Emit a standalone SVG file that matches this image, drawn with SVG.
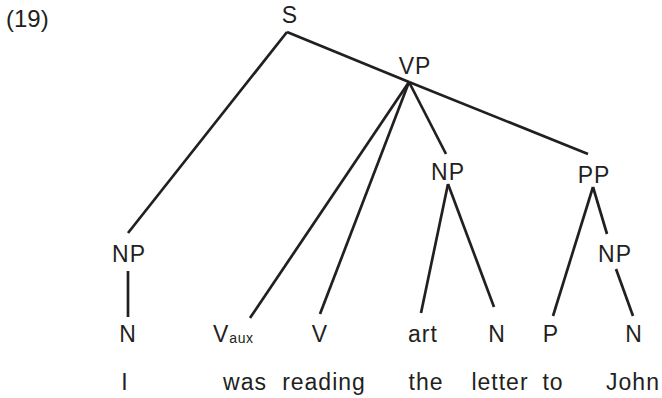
<svg xmlns="http://www.w3.org/2000/svg" width="662" height="398" viewBox="0 0 662 398">
<style>
text{font-family:"Liberation Sans",Arial,sans-serif;font-size:23px;letter-spacing:1px;fill:#231f20;text-anchor:middle}
.sub{font-size:14px;letter-spacing:0.5px}
.lft{text-anchor:start}
.num{font-size:24px;letter-spacing:0}
line{stroke:#231f20;stroke-width:2.7;stroke-linecap:butt}
</style>
<rect width="662" height="398" fill="#fff"/>
<text class="lft num" x="6" y="27">(19)</text>
<g id="connectors">
<line x1="287" y1="32" x2="128" y2="233"/>
<line x1="287" y1="32" x2="409" y2="82"/>
<line x1="409" y1="82" x2="588" y2="154"/>
<line x1="409" y1="82" x2="250" y2="318"/>
<line x1="409" y1="82" x2="320" y2="314"/>
<line x1="409" y1="82" x2="446" y2="154"/>
<line x1="448" y1="184" x2="421" y2="313"/>
<line x1="448" y1="184" x2="494" y2="307"/>
<line x1="593" y1="187" x2="553" y2="316"/>
<line x1="593" y1="187" x2="607" y2="234"/>
<line x1="128" y1="271" x2="128" y2="317"/>
<line x1="616" y1="269" x2="633" y2="316"/>
</g>
<g id="S"><text x="290" y="23">S</text></g>
<g id="VP"><text x="415" y="74">VP</text></g>
<g id="NP1"><text x="129" y="262">NP</text></g>
<g id="NP2"><text x="448" y="180">NP</text></g>
<g id="PP"><text x="594" y="183">PP</text></g>
<g id="NP3"><text x="615" y="262">NP</text></g>
<g id="N1"><text x="128" y="342">N</text></g>
<g id="Vaux"><text class="lft" x="213" y="342">V<tspan class="sub" dy="1">aux</tspan></text></g>
<g id="V"><text x="320" y="342">V</text></g>
<g id="art"><text x="423" y="342">art</text></g>
<g id="N2"><text x="497" y="342">N</text></g>
<g id="P"><text x="551" y="342">P</text></g>
<g id="N3"><text x="634" y="342">N</text></g>
<g id="words">
<text x="125" y="390">I</text>
<text x="245" y="390">was</text>
<text x="324" y="390">reading</text>
<text x="426" y="390">the</text>
<text x="500" y="390">letter</text>
<text x="553" y="390">to</text>
<text x="633" y="390">John</text>
</g>
</svg>
